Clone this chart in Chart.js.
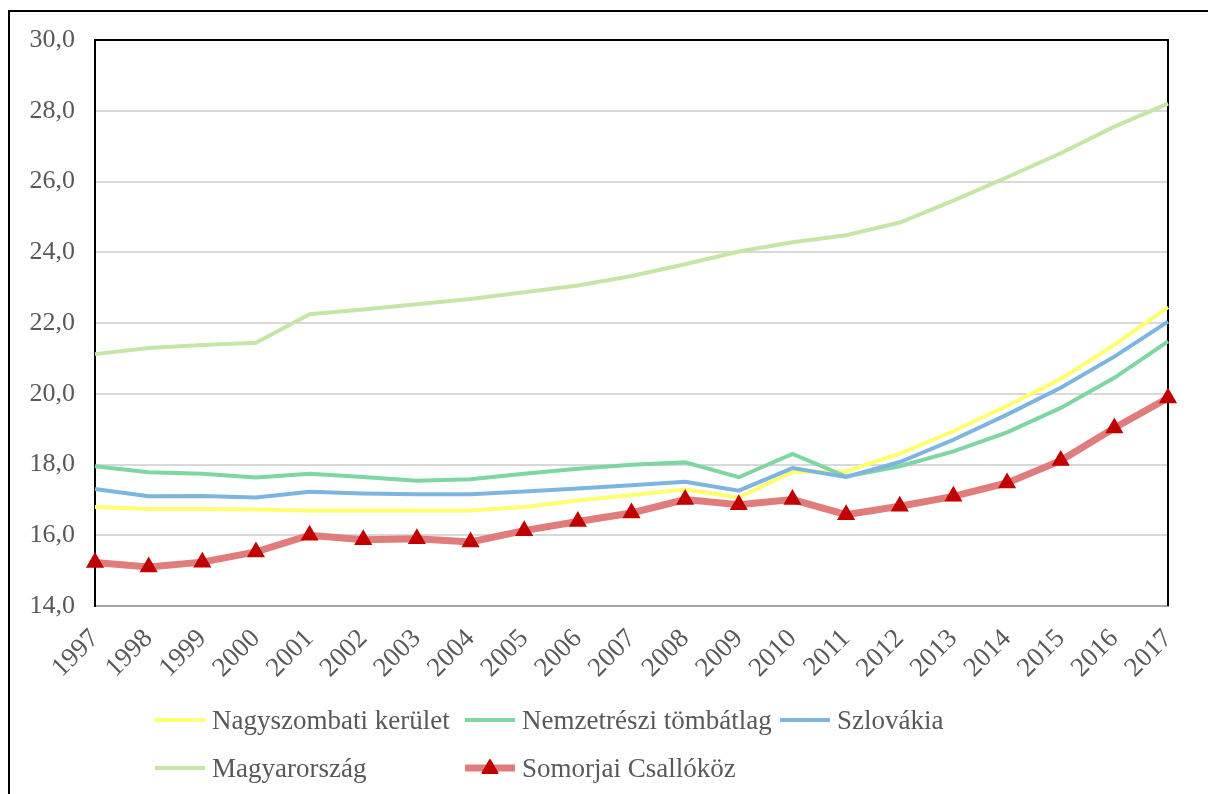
<!DOCTYPE html>
<html>
<head>
<meta charset="utf-8">
<script src="https://cdn.jsdelivr.net/npm/chart.js@4.4.1/dist/chart.umd.min.js"></script>
<style>
  body { margin: 0; background: #fff; overflow: hidden; }
  #wrap { position: relative; width: 1208px; height: 794px; }
  #frame { position: absolute; left: 8px; top: 10px; width: 1300px; height: 900px;
           border-left: 2px solid #000; border-top: 2px solid #000; }
  #chart { position: absolute; left: 0; top: 0; }
  .leg { position: absolute; display: flex; align-items: center; height: 30px;
         font-family: "Liberation Serif", "Times New Roman", serif; font-size: 27px; color: #595959; white-space: nowrap; }
  .leg svg { margin-right: 7px; }
</style>
</head>
<body>
<div id="wrap">
  <div id="frame"></div>
  <canvas id="chart" width="1208" height="794"></canvas>
  <div id="legend"></div>
</div>
<script>
// data
const years = ["1997","1998","1999","2000","2001","2002","2003","2004","2005","2006","2007",
               "2008","2009","2010","2011","2012","2013","2014","2015","2016","2017"];
const nagyszombati = [16.80, 16.74, 16.74, 16.73, 16.70, 16.70, 16.70, 16.70, 16.80, 16.98, 17.14,
                      17.29, 17.07, 17.79, 17.81, 18.31, 18.94, 19.66, 20.42, 21.38, 22.45];
const nemzetreszi = [17.95, 17.78, 17.74, 17.63, 17.74, 17.65, 17.54, 17.58, 17.74, 17.88, 17.99,
                     18.06, 17.64, 18.30, 17.66, 17.95, 18.37, 18.91, 19.60, 20.45, 21.48];
const szlovakia = [17.31, 17.10, 17.11, 17.07, 17.23, 17.18, 17.16, 17.16, 17.24, 17.32, 17.41,
                   17.51, 17.26, 17.90, 17.65, 18.07, 18.70, 19.41, 20.17, 21.05, 22.04];
const magyarorszag = [21.12, 21.29, 21.38, 21.44, 22.25, 22.38, 22.53, 22.68, 22.87, 23.06, 23.33,
                      23.66, 24.02, 24.28, 24.48, 24.84, 25.46, 26.12, 26.80, 27.55, 28.20];
const somorjai = [15.23, 15.10, 15.24, 15.53, 16.00, 15.87, 15.90, 15.81, 16.13, 16.39, 16.63,
                  17.01, 16.86, 17.01, 16.58, 16.82, 17.10, 17.48, 18.11, 19.03, 19.88];

const FONT = "'Liberation Serif', 'Times New Roman', serif";

const series = [
    { label: "Nagyszombati kerület", data: nagyszombati, color: "#ffff70", width: 4 },
    { label: "Nemzetrészi tömbátlag", data: nemzetreszi, color: "#7ed6a2", width: 4 },
    { label: "Szlovákia", data: szlovakia, color: "#7cb5e0", width: 4 },
    { label: "Magyarország", data: magyarorszag, color: "#c6e6a8", width: 4 },
    { label: "Somorjai Csallóköz", data: somorjai, color: "#e07c7c", width: 7, marker: "#c00000" }
];

const datasets = series.map((s, i) => ({
    label: s.label,
    data: s.data,
    borderColor: s.color,
    borderWidth: s.width,
    backgroundColor: s.color,
    tension: 0,
    order: series.length - i,
    pointStyle: s.marker ? "triangle" : "circle",
    pointRadius: s.marker ? 8.5 : 0,
    pointBackgroundColor: s.marker || s.color,
    pointBorderColor: s.marker || s.color,
    pointBorderWidth: 2
}));

// black frame on top and right of plot area
const plotFrame = {
    id: "plotFrame",
    beforeDatasetsDraw(chart) {
        const { ctx, chartArea: a } = chart;
        ctx.save();
        ctx.strokeStyle = "#000";
        ctx.lineWidth = 2;
        ctx.beginPath();
        ctx.moveTo(a.left, a.top);
        ctx.lineTo(a.right, a.top);
        ctx.lineTo(a.right, a.bottom);
        ctx.stroke();
        ctx.restore();
    }
};

new Chart(document.getElementById("chart"), {
    type: "line",
    data: { labels: years, datasets: datasets },
    plugins: [plotFrame],
    options: {
        responsive: false,
        animation: false,
        layout: { padding: { top: 40, right: 40, left: 0, bottom: 0 } },
        plugins: {
            legend: { display: false },
            tooltip: { enabled: false }
        },
        scales: {
            x: {
                offset: false,
                grid: { display: false, drawTicks: false },
                border: { color: "#a6a6a6", width: 2 },
                ticks: {
                    autoSkip: false, maxRotation: 45, minRotation: 45, padding: 17,
                    color: "#595959", font: { family: FONT, size: 27 }
                },
                afterFit(s) { s.height = 188; }
            },
            y: {
                min: 14, max: 30,
                grid: { color: "#d9d9d9", lineWidth: 2, drawTicks: false },
                border: { color: "#000", width: 2 },
                ticks: {
                    stepSize: 2, padding: 20, color: "#595959",
                    font: { family: FONT, size: 26 },
                    callback: v => v.toFixed(1).replace(".", ",")
                },
                afterFit(s) { s.width = 95; }
            }
        }
    }
});

// legend laid out as in the original grid
const legendPos = [[155, 705], [465, 705], [780, 705], [155, 753], [465, 753]];
const legendEl = document.getElementById("legend");
series.forEach((s, i) => {
    const item = document.createElement("div");
    item.className = "leg";
    item.style.left = legendPos[i][0] + "px";
    item.style.top = legendPos[i][1] + "px";
    let icon = `<svg width="50" height="30"><line x1="0" y1="15" x2="50" y2="15" stroke="${s.color}" stroke-width="${s.width}"/>`;
    if (s.marker) {
        icon += `<polygon points="25,7 32.5,20 17.5,20" fill="${s.marker}" stroke="${s.marker}" stroke-width="2" stroke-linejoin="round"/>`;
    }
    icon += "</svg>";
    item.innerHTML = icon + "<span>" + s.label + "</span>";
    legendEl.appendChild(item);
});
</script>
</body>
</html>
